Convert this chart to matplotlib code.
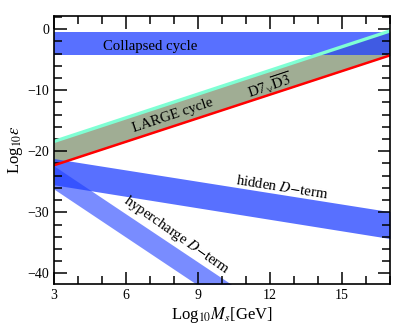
import numpy as np
from matplotlib import pyplot as plt
from matplotlib.ticker import MultipleLocator

plt.rcParams['font.family'] = ['Liberation Serif', 'DejaVu Serif']
plt.rcParams['mathtext.fontset'] = 'stix'

# band edges: x = log10 Ms, y = log10 eps at the two ends
x_ends = [3.0, 17.0]
collapsed_top = [-0.45, -0.45]
collapsed_bot = [-4.3, -4.3]
large_top = [-18.4, -0.3]     # cyan edge
large_bot = [-22.3, -4.3]     # red edge
hidden_top = [-21.2, -29.9]
hidden_bot = [-25.5, -34.3]
hyper_x = [3.0, 11.0]
hyper_top = [-22.4, -43.4]
hyper_bot = [-26.2, -47.2]

BLUE = '#2040ff'
GREEN = '#a0ad94'

fig = plt.figure(figsize=(3.93, 3.33), dpi=100)
ax = fig.add_axes([0.1374, 0.147, 0.855, 0.805])

ax.fill_between(x_ends, large_bot, large_top, color=GREEN, lw=0)
ax.plot(x_ends, large_top, color='#7fffd4', lw=2.4)
ax.plot(x_ends, large_bot, color='red', lw=1.8)
ax.fill_between(hyper_x, hyper_bot, hyper_top, color=BLUE, alpha=0.6, lw=0)
ax.fill_between(x_ends, hidden_bot, hidden_top, color=BLUE, alpha=0.75, lw=0)
ax.fill_between(x_ends, collapsed_bot, collapsed_top, color=BLUE, alpha=0.75, lw=0)

fs = 10.6
ax.text(7.0, -2.9, 'Collapsed cycle', fontsize=fs, ha='center', va='center')
ax.text(7.96, -14.2, 'LARGE cycle', fontsize=fs, ha='center', va='center',
        rotation=18.5, rotation_mode='anchor')
ax.text(11.96, -9.3, r'D7$_{\vee}\overline{\rm D3}$', fontsize=fs, ha='center', va='center',
        rotation=18.5, rotation_mode='anchor')
ax.text(12.5, -26.0, r'hidden $D$$-$term', fontsize=fs, ha='center', va='center',
        rotation=-9, rotation_mode='anchor')
ax.text(8.1, -33.7, r'hypercharge $D$$-$term', fontsize=fs, ha='center', va='center',
        rotation=-35, rotation_mode='anchor')

ax.set_xlim(3, 17)
ax.set_ylim(-41.75, 2.15)
ax.set_xticks([3, 6, 9, 12, 15])
ax.set_yticks([0, -10, -20, -30, -40])
ax.xaxis.set_minor_locator(MultipleLocator(1))
ax.yaxis.set_minor_locator(MultipleLocator(2))
ax.tick_params(which='both', direction='in', top=True, right=True, width=1.1, labelsize=10)
ax.tick_params(which='major', length=9)
ax.tick_params(which='minor', length=5.5)
for s in ax.spines.values():
    s.set_linewidth(1.2)

ax.set_xlabel(r'Log$_{10}M_s$[GeV]', fontsize=12, labelpad=2)
ax.set_ylabel(r'Log$_{10}\epsilon$', fontsize=12, labelpad=2)

fig.savefig('out.png', dpi=100)
